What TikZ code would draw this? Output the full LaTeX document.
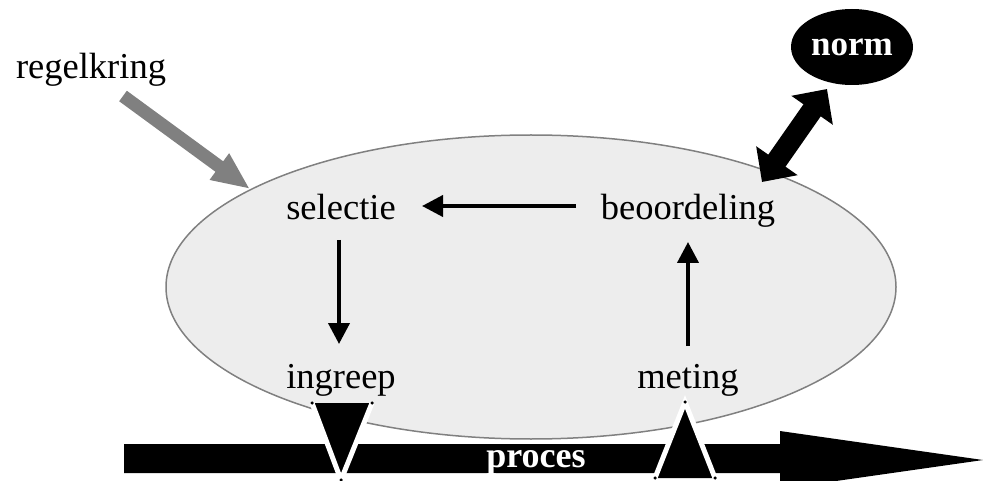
\documentclass[tikz,border=0pt]{standalone}
\usepackage{fontspec}
\setmainfont{Liberation Serif}
\usetikzlibrary{arrows.meta,calc,shapes.geometric}
\begin{document}
\begin{tikzpicture}[x=1pt,y=-1pt,
  lbl/.style={inner sep=0pt,anchor=base,font=\fontsize{36.5}{40}\selectfont},
  thinarrow/.style={line width=4pt,-{Triangle[length=21pt,width=21pt]}},
  fatgray/.style={draw=black!50,line width=13pt,-{Triangle[length=38pt,width=30pt]}},
  fatdouble/.style={line width=21pt,{Triangle[length=26pt,width=49pt]}-{Triangle[length=26pt,width=49pt]}},
  whiteedge/.style={draw=white,line width=5pt},
  vdot/.style={fill=black,circle,inner sep=0pt,minimum size=3.5pt}
]
\useasboundingbox (0,0) rectangle (983,481);
\clip (0,0) rectangle (983,481);

% control loop ellipse
\node[draw=black!50,line width=1.5pt,fill=black!7,ellipse,inner sep=0pt,
      minimum width=730pt,minimum height=304pt] (kring) at (531,287) {};

% labels
\node[lbl] (reg) at (91,79) {regelkring};
\node[lbl] (sel) at (341,220) {selectie};
\node[lbl] (beo) at (688,220) {beoordeling};
\node[lbl] (ing) at (341,388) {ingreep};
\node[lbl] (met) at (688,388) {meting};

% norm
\node[ellipse,fill=black,inner sep=0pt,minimum width=122pt,minimum height=76pt,
      text=white,font=\fontsize{35}{38}\bfseries\selectfont] (norm) at (852,47) {norm};

% loop arrows
\draw[thinarrow] ($(beo.base)+(-112,-14)$) -- ($(sel.base)+(81,-14)$);
\draw[thinarrow] ($(sel.base)+(-2,20)$) -- ($(ing.base)+(-2,-44)$);
\draw[thinarrow] ($(met.base)+(0,-42)$) -- ($(beo.base)+(0,22)$);

% regelkring arrow
\coordinate (regtip) at (250,189);
\draw[fatgray] ($(reg.base)+(32,17)$) -- (regtip);

% norm double arrow
\coordinate (normend) at (827,89);
\draw[fatdouble] ($(beo.base)+(74,-38)$) -- (normend);

% process arrow
\fill[black] (124,444) -- (780,444) -- (780,431) -- (983,460) -- (780,489)
  -- (780,473) -- (124,473) -- cycle;
\node[inner sep=0pt,anchor=base,text=white,font=\fontsize{36}{40}\bfseries\selectfont]
  (proces) at (536,467) {proces};

% ingreep triangle (pointing down)
\coordinate (a1) at (312,403);
\coordinate (a2) at (372,403);
\coordinate (a3) at (341,480);
\fill[black] (a1) -- (a2) -- (a3) -- cycle;
\draw[whiteedge] (a1) -- (a3) -- (a2);
\foreach \p in {a1,a2,a3} \node[vdot] at (\p) {};

% meting triangle (pointing up)
\coordinate (b1) at (685,402);
\coordinate (b2) at (655,478);
\coordinate (b3) at (715,478);
\fill[black] (b1) -- (b2) -- (b3) -- cycle;
\draw[whiteedge] (b2) -- (b1) -- (b3);
\foreach \p in {b1,b2,b3} \node[vdot] at (\p) {};
\end{tikzpicture}
\end{document}
